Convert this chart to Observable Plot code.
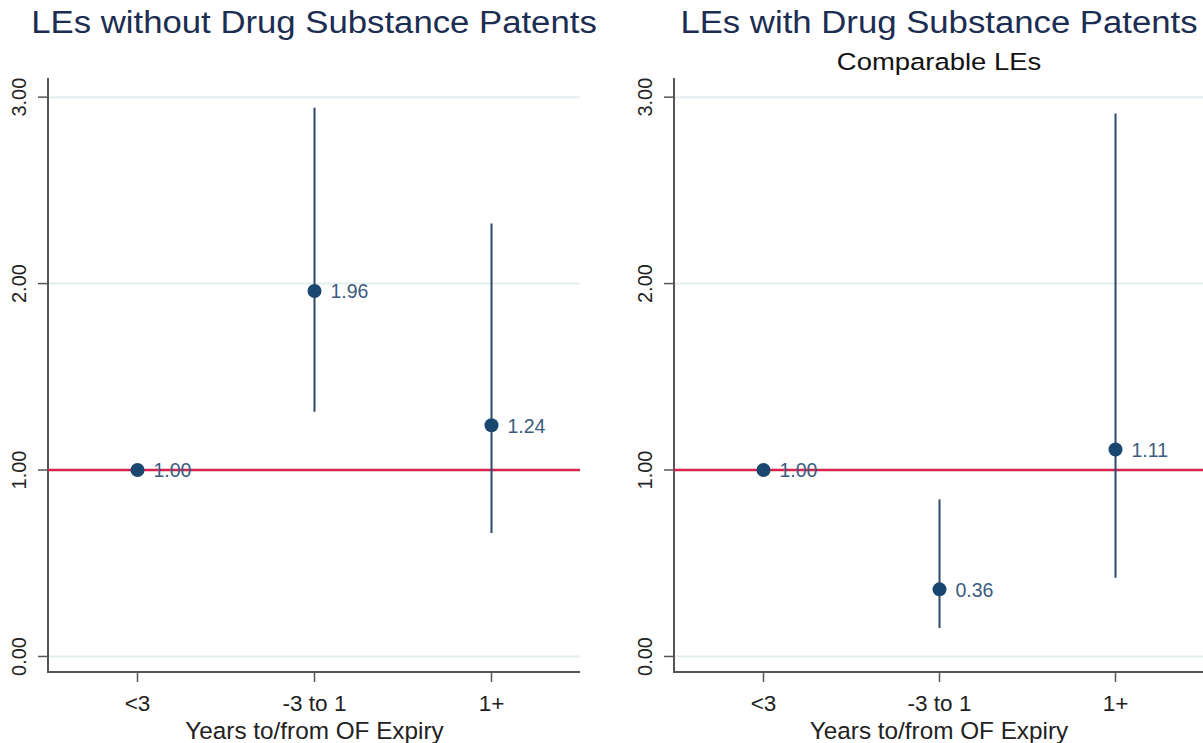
<!DOCTYPE html>
<html>
<head>
<meta charset="utf-8">
<script src="https://cdn.jsdelivr.net/npm/d3@7"></script>
<script src="https://cdn.jsdelivr.net/npm/@observablehq/plot@0.6"></script>
<style>
  body { margin: 0; background: #fff; font-family: "Liberation Sans", Arial, sans-serif; }
  #wrap { position: relative; width: 1203px; height: 743px; overflow: hidden; }
  .panel { position: absolute; top: 0; }
  .title { position: absolute; top: 3px; white-space: nowrap; transform: translateX(-50%) scaleX(1.12);
           font-size: 31px; color: #1c2d52; line-height: 40px; }
  .subtitle { position: absolute; top: 47px; white-space: nowrap; transform: translateX(-50%) scaleX(1.12);
              font-size: 24.5px; color: #111; line-height: 30px; }
</style>
</head>
<body>
<div id="wrap"></div>
<script>
// Categories on the x axis
const categories = ["<3", "-3 to 1", "1+"];
const yTicks = [0, 1, 2, 3];

// Panel 1: LEs without drug substance patents
const leftEstimate = [1.00, 1.96, 1.24];
const leftLower = [null, 1.31, 0.66];
const leftUpper = [null, 2.94, 2.32];

// Panel 2: LEs with drug substance patents (comparable LEs)
const rightEstimate = [1.00, 0.36, 1.11];
const rightLower = [null, 0.15, 0.42];
const rightUpper = [null, 0.84, 2.91];

const navy = "#1a476f";
const barColor = "#2c4a6b";
const labelColor = "#3b5b80";
const refColor = "#d6244f";
const gridColor = "#e4eef0";
const axisColor = "#555";
const fontFamily = "'Liberation Sans', Arial, sans-serif";

function rows(est, lo, hi) {
  return categories.map((c, i) => ({cat: c, est: est[i], lo: lo[i], hi: hi[i]}));
}

// Left and bottom axis lines along the edges of the plot frame
function axisLines(index, scales, values, dims) {
  const g = d3.create("svg:g").attr("stroke", axisColor).attr("stroke-width", 2);
  const x0 = dims.marginLeft, x1 = dims.width - dims.marginRight;
  const y0 = dims.marginTop, y1 = dims.height - dims.marginBottom;
  g.append("line").attr("x1", x0).attr("x2", x0).attr("y1", y0).attr("y2", y1 + 1);
  g.append("line").attr("x1", x0 - 1).attr("x2", x1).attr("y1", y1).attr("y2", y1);
  return g.node();
}

function panel({est, lo, hi, width, marginRight}) {
  const data = rows(est, lo, hi);
  const ci = data.filter(d => d.lo != null && d.hi != null);
  return Plot.plot({
    width,
    height: 743,
    marginTop: 78,
    marginBottom: 71,
    marginLeft: 48,
    marginRight,
    style: {fontFamily, background: "transparent"},
    x: {type: "point", domain: categories, padding: 0.5, axis: null},
    y: {domain: [-0.086, 3.1], axis: null},
    marks: [
      Plot.gridY(yTicks, {stroke: gridColor, strokeOpacity: 1, strokeWidth: 2}),
      Plot.axisY(yTicks, {tickSize: 10, tickFormat: () => "", stroke: axisColor, strokeWidth: 1.5}),
      Plot.text(yTicks, {y: d => d, text: d => d3.format(".2f")(d), frameAnchor: "left", dx: -28.5,
                         rotate: -90, textAnchor: "middle", lineAnchor: "middle", fontSize: 20, fill: "#222"}),
      Plot.axisX(categories, {tickSize: 10, tickFormat: () => "", stroke: axisColor, strokeWidth: 1.5, label: null}),
      Plot.text(categories, {x: d => d, text: d => d, frameAnchor: "bottom", lineAnchor: "middle", dy: 31.5,
                             fontSize: 22.5, fill: "#222"}),
      Plot.text(["Years to/from OF Expiry"], {frameAnchor: "bottom", lineAnchor: "middle", dy: 58.5,
                                             fontSize: 24.3, fill: "#222"}),
      axisLines,
      Plot.ruleY([1], {stroke: refColor, strokeWidth: 2.5}),
      Plot.ruleX(ci, {x: "cat", y1: "lo", y2: "hi", stroke: barColor, strokeWidth: 2}),
      Plot.dot(data, {x: "cat", y: "est", r: 7, fill: navy, stroke: "none"}),
      Plot.text(data, {x: "cat", y: "est", text: d => d3.format(".2f")(d.est), dx: 16, dy: 1,
                       textAnchor: "start", fontSize: 19.5, fill: labelColor})
    ]
  });
}

const wrap = document.getElementById("wrap");

const left = document.createElement("div");
left.className = "panel";
left.style.left = "0px";
left.appendChild(panel({est: leftEstimate, lo: leftLower, hi: leftUpper, width: 601, marginRight: 21}));
wrap.appendChild(left);

const right = document.createElement("div");
right.className = "panel";
right.style.left = "626px";
right.appendChild(panel({est: rightEstimate, lo: rightLower, hi: rightUpper, width: 577, marginRight: 0}));
wrap.appendChild(right);

function addText(cls, text, x) {
  const el = document.createElement("div");
  el.className = cls;
  el.textContent = text;
  el.style.left = x + "px";
  wrap.appendChild(el);
}
addText("title", "LEs without Drug Substance Patents", 314);
addText("title", "LEs with Drug Substance Patents", 939);
addText("subtitle", "Comparable LEs", 939);
</script>
</body>
</html>
